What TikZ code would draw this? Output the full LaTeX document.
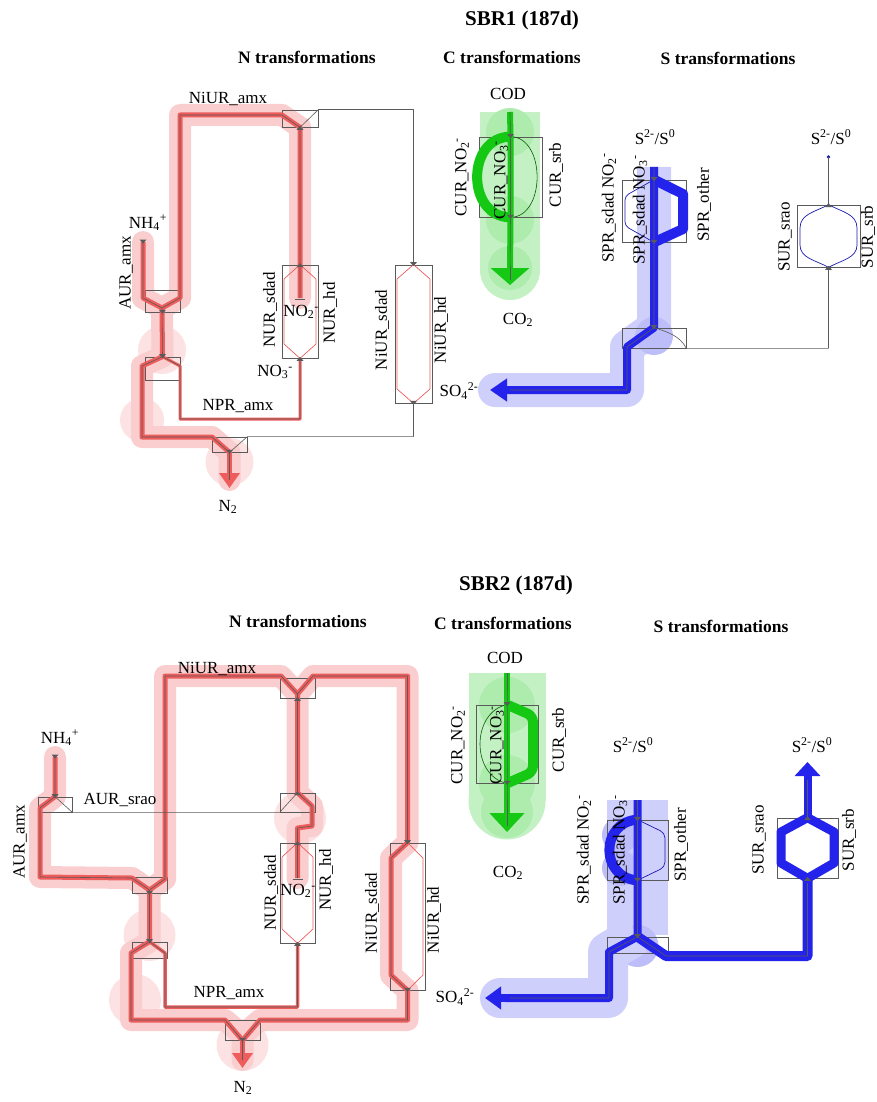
\documentclass[tikz,border=0pt]{standalone}
\usepackage{fontspec}
\setmainfont{Liberation Serif}
\usetikzlibrary{arrows.meta, backgrounds}

\definecolor{nred}{RGB}{238,92,92}
\definecolor{cgreen}{RGB}{20,200,20}
\definecolor{sblue}{RGB}{35,35,235}
\definecolor{boxgray}{RGB}{90,90,90}

\newcommand\subsup[2]{\textsubscript{#1}\textsuperscript{#2}}
\newcommand\tipmark[2][0]{\fill[boxgray, shift={(#2)}, rotate=#1] (-3.5,-2.5) -- (3.5,-2.5) -- (0,1.5) -- cycle;}

\begin{document}
\begin{tikzpicture}[x=1pt, y=-1pt,
	jbox/.style={draw=boxgray, line width=0.7pt, inner sep=0pt, minimum width=35pt},
	lbl/.style={font=\fontsize{17}{20}\selectfont, inner sep=0pt},
	vlbl/.style={lbl, rotate=90},
	ttl/.style={font=\fontsize{21}{25}\selectfont\bfseries},
	subttl/.style={font=\fontsize{17.5}{21}\selectfont\bfseries},
	core/.style={draw=boxgray, line width=0.6pt, line join=round},
	halo/.style={line width=#1, line cap=round, line join=round},
	rflow/.style={core, preaction={draw=nred, line width=#1, line join=round}},
	rflow/.default=5pt,
	gflow/.style={core, preaction={draw=cgreen, line width=#1, line join=round}},
	gflow/.default=6pt,
	bflow/.style={core, preaction={draw=sblue, line width=#1, line join=round}},
	bflow/.default=8pt,
	nthin/.style={draw=nred, line width=0.7pt, line join=round},
	cthin/.style={draw=cgreen!45!black, line width=0.6pt},
	sthin/.style={draw=sblue!75!black, line width=0.7pt, line join=round},
]
	\useasboundingbox (0,0) rectangle (877,1102);

	% ================= SBR1 =================
	\node[ttl] (t1) at (522,20) {SBR1 (187d)};
	\node[subttl] (tn1) at (307,57) {N transformations};
	\node[subttl] (tc1) at (512,57) {C transformations};
	\node[subttl] (ts1) at (728,58) {S transformations};

	% N boxes
	\node[jbox, minimum height=22pt] (a1) at (162.5,301) {};
	\node[jbox, minimum height=23pt] (a2) at (162.5,368.5) {};
	\node[jbox, minimum width=36pt, minimum height=17pt] (b1) at (300,118.5) {};
	\node[jbox, minimum width=36pt, minimum height=93pt] (nur) at (300,311.5) {};
	\node[jbox, minimum width=37pt, minimum height=138pt] (niur) at (413.5,334) {};
	\node[jbox, minimum height=15pt] (nout) at (229.5,444.5) {};
	\coordinate (nh4a) at (143,242);

	% C and S boxes
	\node[jbox, minimum width=63pt, minimum height=80pt] (cbox) at (510.5,177) {};
	\node[jbox, minimum width=64pt, minimum height=62pt] (sprbox) at (654,211) {};
	\node[jbox, minimum width=64pt, minimum height=20pt] (sjunc) at (654,338) {};
	\node[jbox, minimum width=63pt, minimum height=62pt] (surbox) at (828.5,236) {};
	\coordinate (ssrc) at (828.5,157);

	\begin{scope}[on background layer]
		% N halo
		\fill[nred!18] (162,350) circle (24pt) (229.5,462) circle (24pt) (142,420) circle (22pt);
		\draw[nred!30, halo=22pt] (nh4a) -- (143,298) -- (162,308) -- (180,298) -- (180,115) -- (282,115) -- (b1.south) -- (300,298);
		\draw[nred!30, halo=22pt] (162,308) -- (a2.north) -- (142,366) -- (142,437) -- (212,437) -- (nout.south) -- (229.5,480);
		% C halo
		\draw[cgreen!25, line width=60pt] (510,112) -- (510,270);
		\fill[cgreen!25] (510,270) circle (30pt);
		\fill[cgreen!35] (510,132) circle (24pt) (510,220) circle (24pt) (510,268) circle (22pt);
		% S halo
		\draw[sblue!22, line width=34pt, line join=round] (654,167) -- (sjunc.north) -- (627,347) -- (627,390) -- (495,390);
		\fill[sblue!22] (495,390) circle (17pt);
		\fill[sblue!30] (654,336) circle (19pt);
	\end{scope}

	% N flows
	\draw[rflow] (nh4a) -- (143,298) -- (162,308) -- (180,298) -- (180,115) -- (282,115) -- (b1.south) -- (nur.north) -- (300,298);
	\draw[rflow] (162,308) -- (a2.north) -- (142,366) -- (142,437) -- (212,437) -- (nout.south);
	\draw[nred, line width=5pt, -{Triangle[width=20pt,length=15pt]}] (nout.south) -- (229.5,488);
	\draw[core] (nout.south) -- (229.5,480);
	\draw[rflow=3pt] (a2.north) -- (180,366) -- (180,419) -- (300,419) -- (nur.south);
	\draw[core] (b1.north east) -- (b1.north east -| niur.north) -- (niur.north);
	\draw[core] (b1.north east) -- (b1.south);
	\draw[core] (niur.south) -- (niur.south |- nout.north) -- (nout.north east) -- (nout.south);
	\draw[nthin] (nur.north) -- (284,279) -- (284,344) -- (nur.south) -- (316,344) -- (316,279) -- cycle;
	\draw[nthin] (niur.north) -- (397,279) -- (397,389) -- (niur.south) -- (430,389) -- (430,279) -- cycle;
	\draw[boxgray, line width=1pt] (295,299) -- (305,299);
	\tipmark{nh4a} \tipmark{a1.south} \tipmark{a2.north} \tipmark{nout.south}
	\tipmark[180]{b1.south} \tipmark[180]{nur.north} \tipmark[180]{nur.south}
	\tipmark{niur.north} \tipmark{niur.south}

	% C flows
	\draw[cgreen, line width=10pt] (cbox.north) .. controls (466,137) and (466,217) .. (cbox.south);
	\draw[cthin] (cbox.north) .. controls (546,137) and (546,217) .. (cbox.south);
	\draw[gflow] (510,112) -- (cbox.north) -- (cbox.south) -- (510,272);
	\draw[cgreen, line width=6pt, -{Triangle[width=38pt,length=17pt]}] (510,266) -- (510,285);
	\draw[core] (510,266) -- (510,280);
	\tipmark{cbox.north} \tipmark{cbox.south}

	% S flows
	\draw[sblue, line width=10pt, line join=round] (sprbox.north) -- (683,194) -- (683,229) -- (sprbox.south);
	\draw[sthin, rounded corners=4pt] (sprbox.north) -- (625,196) -- (625,226) -- (sprbox.south);
	\draw[bflow] (654,167) -- (sprbox.north) -- (sprbox.south) -- (sjunc.north) -- (627,347) -- (627,390) -- (505,390);
	\draw[sblue, line width=8pt, -{Triangle[width=22pt,length=17pt]}] (510,390) -- (490,390);
	\draw[core] (sjunc.north) .. controls (668,332) and (680,336) .. (sjunc.south east) -- (sjunc.south east -| surbox.south) -- (surbox.south);
	\fill[sblue!75!black] (ssrc) circle (1.8pt);
	\draw[core] (ssrc) -- (surbox.north);
	\draw[sthin] (surbox.north) .. controls (815,212) and (800,214) .. (800,228) -- (800,245) .. controls (800,258) and (815,260) .. (surbox.south);
	\draw[sthin] (surbox.north) .. controls (842,212) and (857,214) .. (857,228) -- (857,245) .. controls (857,258) and (842,260) .. (surbox.south);
	\tipmark{sprbox.north} \tipmark{sprbox.south} \tipmark{sjunc.north}
	\tipmark[180]{surbox.north} \tipmark[180]{surbox.south}

	% SBR1 labels
	\node[lbl] (l1niuramx) at (228,99) {NiUR\_amx};
	\node[lbl] (l1nh4) at (148,223) {NH\subsup{4}{+}};
	\node[vlbl] (l1auramx) at (126,273) {AUR\_amx};
	\node[vlbl] (l1nursdad) at (270,310) {NUR\_sdad};
	\node[lbl] (l1no2) at (301,312) {NO\subsup{2}{-}};
	\node[vlbl] (l1nurhd) at (330,313) {NUR\_hd};
	\node[lbl] (l1no3) at (275,372) {NO\subsup{3}{-}};
	\node[lbl] (l1npr) at (238,406) {NPR\_amx};
	\node[vlbl] (l1niursdad) at (382,330) {NiUR\_sdad};
	\node[vlbl] (l1niurhd) at (441,330) {NiUR\_hd};
	\node[lbl] (l1n2) at (228,507) {N\textsubscript{2}};
	\node[lbl] (l1cod) at (508,94) {COD};
	\node[vlbl] (l1curno2) at (462,177) {CUR\_NO\subsup{2}{-}};
	\node[vlbl] (l1curno3) at (501,180) {CUR\_NO\subsup{3}{-}};
	\node[vlbl] (l1cursrb) at (556,175) {CUR\_srb};
	\node[lbl] (l1co2) at (518,320) {CO\textsubscript{2}};
	\node[lbl] (l1s2a) at (655,137) {S\textsuperscript{2-}/S\textsuperscript{0}};
	\node[lbl] (l1s2b) at (831,137) {S\textsuperscript{2-}/S\textsuperscript{0}};
	\node[vlbl] (l1sprno2) at (609,208) {SPR\_sdad NO\subsup{2}{-}};
	\node[vlbl] (l1sprno3) at (640,210) {SPR\_sdad NO\subsup{3}{-}};
	\node[vlbl] (l1sprother) at (704,205) {SPR\_other};
	\node[vlbl] (l1sursrao) at (785,237) {SUR\_srao};
	\node[vlbl] (l1sursrb) at (868,237) {SUR\_srb};
	\node[lbl] (l1so4) at (459,391) {SO\subsup{4}{2-}};

	% ================= SBR2 =================
	\node[ttl] (t2) at (516,585) {SBR2 (187d)};
	\node[subttl] (tn2) at (298,621) {N transformations};
	\node[subttl] (tc2) at (503,623) {C transformations};
	\node[subttl] (ts2) at (721,626) {S transformations};

	% N boxes
	\node[jbox, minimum width=34pt, minimum height=15pt] (ba1) at (55,804.5) {};
	\node[jbox, minimum height=16pt] (ba2) at (149.5,885) {};
	\node[jbox, minimum height=16pt] (ba3) at (149.5,950) {};
	\node[jbox, minimum height=20pt] (bb1) at (297.5,688) {};
	\node[jbox, minimum height=19pt] (bb2) at (297.5,802.5) {};
	\node[jbox, minimum height=100pt] (bnur) at (297.5,893) {};
	\node[jbox, minimum height=147pt] (bniur) at (407.5,916.5) {};
	\node[jbox, minimum height=20pt] (bn2) at (242.5,1030) {};
	\coordinate (nh4b) at (55,757);

	% C and S boxes
	\node[jbox, minimum width=62pt, minimum height=78pt] (cbox2) at (507,744) {};
	\node[jbox, minimum width=61pt, minimum height=60pt] (sprbox2) at (637.5,850) {};
	\node[jbox, minimum width=61pt, minimum height=16pt] (sjunc2) at (637.5,945) {};
	\node[jbox, minimum width=61pt, minimum height=60pt] (surbox2) at (807.5,848) {};

	\begin{scope}[on background layer]
		% N halo
		\fill[nred!18] (149.5,935) circle (26pt) (300,818) circle (26pt) (242.5,1045) circle (26pt) (135,1000) circle (26pt);
		\draw[nred!30, halo=22pt] (nh4b) -- (ba1.north) -- (40,808) -- (40,877) -- (132,878) -- (149.5,890) -- (ba3.north) -- (131,953) -- (131,1020) -- (225,1020) -- (242.5,1035) -- (242.5,1060);
		\draw[nred!30, halo=22pt] (149.5,890) -- (165,879) -- (165,676) -- (281,676) -- (297.5,694) -- (313,676) -- (407.5,676) -- (bniur.north) -- (391,858) -- (391,975) -- (bniur.south) -- (407.5,1020) -- (260,1020) -- (242.5,1035);
		\draw[nred!30, halo=22pt] (297.5,694) -- (bb2.north) -- (312,806) -- (312,826) -- (297.5,828) -- (297.5,878);
		% C halo
		\draw[cgreen!25, line width=77pt] (507,673) -- (507,801);
		\fill[cgreen!25] (507,801) circle (38.5pt);
		\fill[cgreen!35] (507,705) circle (28pt) (507,783) circle (28pt) (507,812) circle (26pt);
		% S halo
		\fill[sblue!22] (607,800) rectangle (668,935);
		\fill[sblue!30] (620,835) circle (18pt) (620,868) circle (18pt) (637.5,946) circle (21pt);
		\draw[sblue!22, line width=40pt, line join=round] (637,935) -- (608,952) -- (608,998) -- (500,998);
		\fill[sblue!22] (500,998) circle (20pt);
	\end{scope}

	% N flows
	\draw[rflow] (nh4b) -- (ba1.north) -- (40,808) -- (40,877) -- (132,878) -- (149.5,890) -- (ba3.north) -- (131,953) -- (131,1020) -- (225,1020) -- (bn2.south);
	\draw[rflow] (149.5,890) -- (165,879) -- (165,676) -- (281,676) -- (297.5,694) -- (313,676) -- (407.5,676) -- (bniur.north) -- (391,858) -- (391,975) -- (bniur.south) -- (407.5,1020) -- (260,1020) -- (bn2.south);
	\draw[rflow] (297.5,694) -- (bb2.north) -- (312,806) -- (312,826) -- (297.5,828) -- (bnur.north) -- (297.5,878);
	\draw[nred, line width=5pt, -{Triangle[width=20pt,length=15pt]}] (bn2.south) -- (242.5,1068);
	\draw[core] (bn2.south) -- (242.5,1060);
	\draw[rflow=3.5pt] (ba3.north) -- (165,953) -- (165,1007) -- (297.5,1007) -- (bnur.south);
	\draw[core] (ba1.north) -- (ba1.south east) -- (bb2.south west) -- (bb2.north);
	\draw[nthin] (bniur.north) -- (423,858) -- (423,975) -- (bniur.south);
	\draw[nthin] (bnur.north) -- (282,857) -- (282,929) -- (bnur.south) -- (313,929) -- (313,857) -- cycle;
	\draw[boxgray, line width=1pt] (292.5,879) -- (302.5,879);
	\tipmark{nh4b} \tipmark{ba1.north} \tipmark{ba2.south} \tipmark{ba3.north} \tipmark{bn2.south}
	\tipmark[180]{bb1.south} \tipmark[180]{bb2.north} \tipmark[180]{bnur.north} \tipmark[180]{bnur.south}
	\tipmark{bniur.north} \tipmark{bniur.south}

	% C flows
	\draw[cgreen, line width=10pt, line join=round, rounded corners=6pt] (cbox2.north) -- (533,716) -- (533,772) -- (cbox2.south);
	\draw[cthin] (cbox2.north) .. controls (471,712) and (471,776) .. (cbox2.south);
	\draw[gflow] (507,673) -- (cbox2.north) -- (cbox2.south) -- (507,816);
	\draw[cgreen, line width=6pt, -{Triangle[width=34pt,length=19pt]}] (507,810) -- (507,832);
	\draw[core] (507,810) -- (507,826);
	\tipmark{cbox2.north} \tipmark{cbox2.south}

	% S flows
	\draw[sblue, line width=10pt] (sprbox2.north) .. controls (600,822) and (600,878) .. (sprbox2.south);
	\draw[sthin, rounded corners=5pt] (sprbox2.north) -- (665,833) -- (665,867) -- (sprbox2.south);
	\draw[bflow] (637.5,800) -- (sprbox2.north) -- (sprbox2.south) -- (sjunc2.north) -- (609,952) -- (609,998) -- (505,998);
	\draw[sblue, line width=8pt, -{Triangle[width=22pt,length=16pt]}] (510,998) -- (485,998);
	\draw[bflow=10pt] (sjunc2.north) -- (666,956) -- (807.5,956) -- (surbox2.south);
	\draw[sblue, line width=9pt, line join=round] (surbox2.north) -- (781,832) -- (781,863) -- (surbox2.south) -- (834,863) -- (834,832) -- cycle;
	\draw[bflow] (surbox2.north) -- (807.5,776);
	\draw[sblue, line width=8pt, -{Triangle[width=25pt,length=14pt]}] (807.5,780) -- (807.5,762);
	\tipmark{sprbox2.north} \tipmark{sprbox2.south} \tipmark{sjunc2.north}
	\tipmark[180]{surbox2.north} \tipmark[180]{surbox2.south}

	% SBR2 labels
	\node[lbl] (l2niuramx) at (217,669) {NiUR\_amx};
	\node[lbl] (l2nh4) at (60,738) {NH\subsup{4}{+}};
	\node[lbl] (l2aursrao) at (120,800) {AUR\_srao};
	\node[vlbl] (l2auramx) at (20,842) {AUR\_amx};
	\node[vlbl] (l2nursdad) at (271,893) {NUR\_sdad};
	\node[lbl] (l2no2) at (298,891) {NO\subsup{2}{-}};
	\node[vlbl] (l2nurhd) at (326,880) {NUR\_hd};
	\node[vlbl] (l2niursdad) at (372,913) {NiUR\_sdad};
	\node[vlbl] (l2niurhd) at (434,920) {NiUR\_hd};
	\node[lbl] (l2npr) at (229,993) {NPR\_amx};
	\node[lbl] (l2n2) at (243,1088) {N\textsubscript{2}};
	\node[lbl] (l2cod) at (505,658) {COD};
	\node[vlbl] (l2curno2) at (458,745) {CUR\_NO\subsup{2}{-}};
	\node[vlbl] (l2curno3) at (497,745) {CUR\_NO\subsup{3}{-}};
	\node[vlbl] (l2cursrb) at (559,740) {CUR\_srb};
	\node[lbl] (l2co2) at (508,873) {CO\textsubscript{2}};
	\node[lbl] (l2s2a) at (633,745) {S\textsuperscript{2-}/S\textsuperscript{0}};
	\node[lbl] (l2s2b) at (812,745) {S\textsuperscript{2-}/S\textsuperscript{0}};
	\node[vlbl] (l2sprno2) at (584,850) {SPR\_sdad NO\subsup{2}{-}};
	\node[vlbl] (l2sprno3) at (620,850) {SPR\_sdad NO\subsup{3}{-}};
	\node[vlbl] (l2sprother) at (681,845) {SPR\_other};
	\node[vlbl] (l2sursrao) at (759,840) {SUR\_srao};
	\node[vlbl] (l2sursrb) at (849,840) {SUR\_srb};
	\node[lbl] (l2so4) at (455,997) {SO\subsup{4}{2-}};
\end{tikzpicture}
\end{document}
